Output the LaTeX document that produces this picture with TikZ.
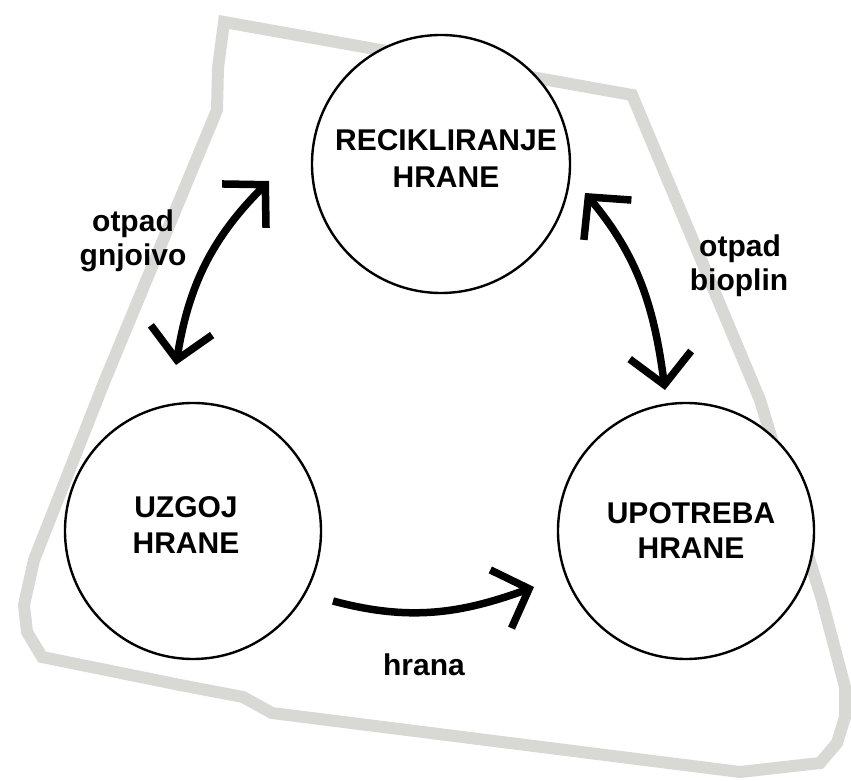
\documentclass[tikz,border=0pt]{standalone}
\usepackage{fontspec}
\setmainfont{Liberation Sans}
\usetikzlibrary{arrows.meta}
\definecolor{outlinegrey}{RGB}{216,216,212}
\begin{document}
\begin{tikzpicture}[x=1pt,y=1pt,
  lbl/.style={font=\fontsize{30}{36}\selectfont\bfseries, inner sep=0pt, anchor=base},
  disc/.style={circle, draw=black, line width=2.4pt, fill=white, minimum size=#1, inner sep=0pt},
  barb/.tip={Straight Barb[sharp,length=30pt,width=62pt]},
  flow/.style={line width=7.5pt, draw=black},
  frame/.style={draw=outlinegrey, line width=12pt, line join=miter}
]
\useasboundingbox (0,0) rectangle (851,781);

% grey outline
\draw[frame] (224,759) -- (218,713) -- (217,671) -- (105,401) -- (34,221)
  -- (24,176) -- (27,149) -- (42,124) -- (180,96) -- (243,84) -- (272,68)
  -- (740,9) -- (820,18) -- (837,38) -- (845,64) -- (845,94) -- (822,181)
  -- (770,348) -- (760,381) -- (632,686) -- cycle;

% circles
\node[disc=258pt] (rec) at (441,617) {};
\node[disc=256pt] (uzg) at (193,250) {};
\node[disc=256pt] (upo) at (686,250) {};

% circle texts
\node[lbl] (recA) at (446,630) {RECIKLIRANJE};
\node[lbl] (recB) at (446,593) {HRANE};
\node[lbl] (uzgA) at (186,263) {UZGOJ};
\node[lbl] (uzgB) at (186,227) {HRANE};
\node[lbl] (upoA) at (691,257) {UPOTREBA};
\node[lbl] (upoB) at (691,222) {HRANE};

% arrow end points
\coordinate (lb) at (176,416);
\coordinate (lt) at (269,600);
\coordinate (rt) at (585,588);
\coordinate (rb) at (665,391);
\coordinate (hs) at (333,180);
\coordinate (he) at (534,194);

% arrows
\draw[flow, barb-barb] (lb) to[out=81,in=225] (lt);
\draw[flow, barb-barb] (rt) to[out=-50,in=97.5] (rb);
\draw[flow, -barb] (hs) to[out=-15,in=200] (he);

% arrow labels
\node[lbl] (l1a) at (133,549) {otpad};
\node[lbl] (l1b) at (133,515) {gnjoivo};
\node[lbl] (l2a) at (740,524) {otpad};
\node[lbl] (l2b) at (739,490) {bioplin};
\node[lbl] (l3) at (424,105) {hrana};
\end{tikzpicture}
\end{document}
